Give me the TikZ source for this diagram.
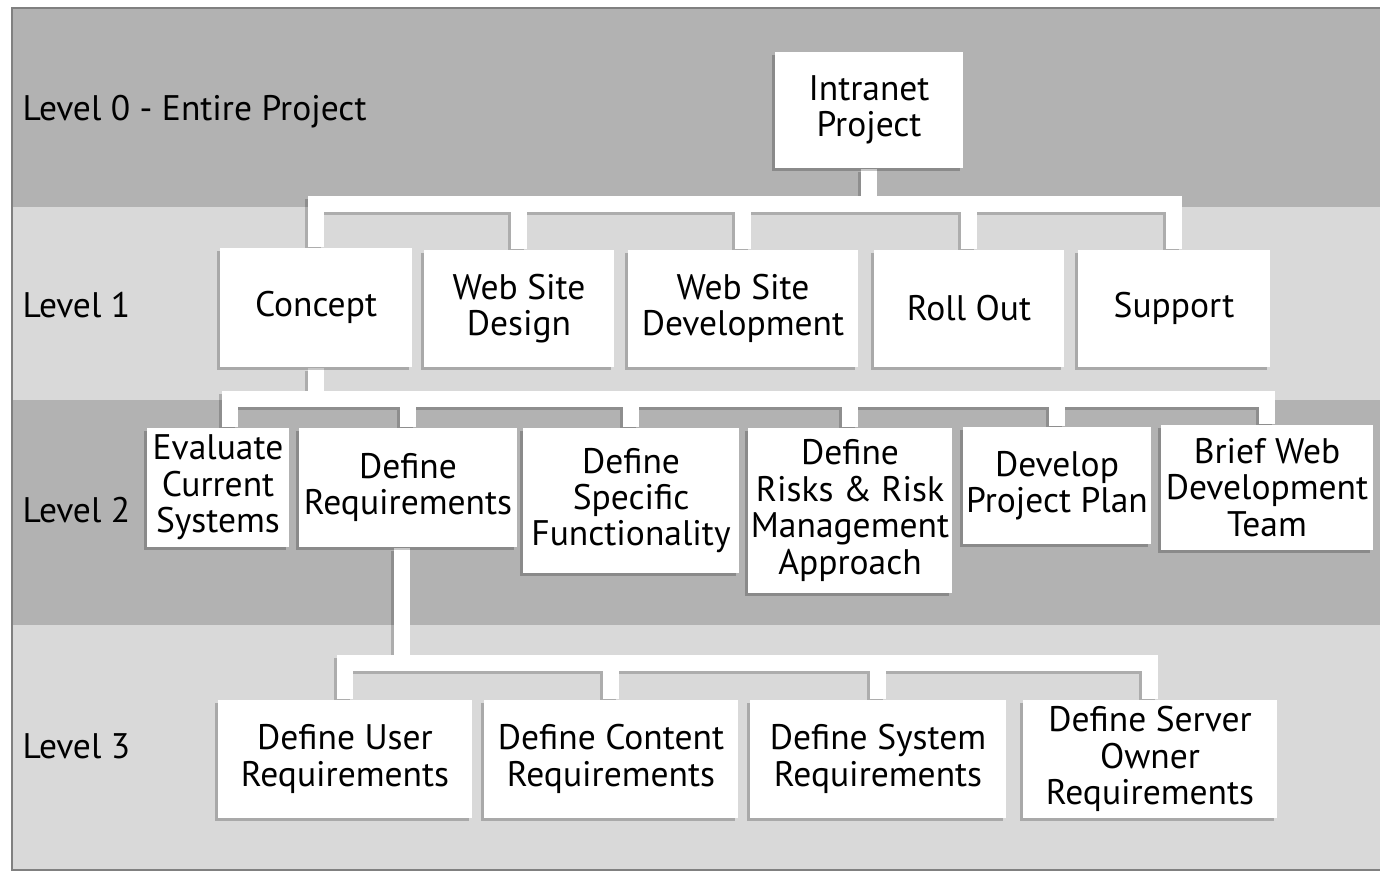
\documentclass[tikz,border=0pt]{standalone}
\usepackage{fontspec}
\setmainfont{PT Sans}
\usepackage{tikz}
\usetikzlibrary{shadows}

\pgfdeclarelayer{back}
\pgfdeclarelayer{mid}
\pgfsetlayers{back,mid,main}

\tikzset{
  box/.style={fill=white, align=center, inner sep=0pt, minimum height=1.18cm,
    font=\fontsize{10.1}{10.35}\selectfont,
    drop shadow={shadow xshift=-0.03cm, shadow yshift=-0.03cm, fill=black, opacity=0.22}},
  lvl/.style={anchor=west, inner sep=0pt, font=\fontsize{10.1}{10.35}\selectfont},
  link/.style={draw=white, line width=0.16cm,
    preaction={draw=black, opacity=0.2, line width=0.16cm,
      transform canvas={xshift=-0.03cm, yshift=-0.03cm}}}
}

\begin{document}
\begin{tikzpicture}[x=0.01cm, y=-0.01cm]

\useasboundingbox (0,0) rectangle (1380,872);

% bands
\begin{pgfonlayer}{back}
\fill[white] (0,0) rectangle (1380,872);
\fill[black!30] (12,8) rectangle (1380,207);
\fill[black!15] (12,207) rectangle (1380,400);
\fill[black!30] (12,400) rectangle (1380,625);
\fill[black!15] (12,625) rectangle (1380,870);
\draw[black!50, line width=0.02cm] (1380,8) -- (12,8) -- (12,870) -- (1380,870);
\end{pgfonlayer}

% level names
{
\node (l0) at (22,112) [lvl] {Level 0 - Entire Project};
\node (l1) at (22,305) [lvl] {Level 1};
\node (l2) at (22,510) [lvl] {Level 2};
\node (l3) at (22,746) [lvl] {Level 3};
}

% nodes
{
\node (top) at (869,110) [box, minimum width=1.88cm, minimum height=1.16cm] {Intranet\\Project};

\node (concept) at (316,307.5) [box, minimum width=1.92cm, minimum height=1.19cm] {Concept};
\node (design) at (519,308.5) [box, minimum width=1.90cm, minimum height=1.17cm] {Web Site\\Design};
\node (develop) at (743,308.5) [box, minimum width=2.30cm, minimum height=1.17cm] {Web Site\\Development};
\node (rollout) at (969,308.5) [box, minimum width=1.90cm, minimum height=1.17cm] {Roll Out};
\node (support) at (1174,308.5) [box, minimum width=1.92cm, minimum height=1.17cm] {Support};

\node (eval) at (218,487.5) [box, minimum width=1.41cm, minimum height=1.19cm] {Evaluate\\Current\\Systems};
\node (defreq) at (408,487.5) [box, minimum width=2.18cm, minimum height=1.19cm] {Define\\Requirements};
\node (specific) at (631,500.5) [box, minimum width=2.16cm, minimum height=1.45cm] {Define\\Specific\\Functionality};
\node (risks) at (850,510.5) [box, minimum width=2.04cm, minimum height=1.65cm] {Define\\Risks \& Risk\\Management\\Approach};
\node (plan) at (1057,485.5) [box, minimum width=1.88cm, minimum height=1.17cm] {Develop\\Project Plan};
\node (brief) at (1267,487.5) [box, minimum width=2.12cm, minimum height=1.25cm] {Brief Web\\Development\\Team};

\node (user) at (345,759) [box, minimum width=2.54cm] {Define User\\Requirements};
\node (content) at (611,759) [box, minimum width=2.54cm] {Define Content\\Requirements};
\node (system) at (878,759) [box, minimum width=2.55cm] {Define System\\Requirements};
\node (server) at (1150,759) [box, minimum width=2.54cm] {Define Server\\Owner\\Requirements};
}

% links
\begin{pgfonlayer}{mid}
\coordinate (bar1) at (0,203.5);
\coordinate (bar2) at (0,399);
\coordinate (bar3) at (0,662.5);
\coordinate (dq) at ([xshift=-0.06cm]defreq.south);

\draw[link] (top.south) -- (top.south |- bar1)
  (concept.north) |- (support.north |- bar1) -- (support.north)
  (design.north) -- (design.north |- bar1)
  (develop.north) -- (develop.north |- bar1)
  (rollout.north) -- (rollout.north |- bar1);

\draw[link] (concept.south) -- (concept.south |- bar2)
  ([xshift=0.12cm]eval.north) |- (brief.north |- bar2) -- (brief.north)
  (defreq.north) -- (defreq.north |- bar2)
  (specific.north) -- (specific.north |- bar2)
  (risks.north) -- (risks.north |- bar2)
  (plan.north) -- (plan.north |- bar2);

\draw[link] (dq) -- (dq |- bar3)
  (user.north) |- (server.north |- bar3) -- (server.north)
  (content.north) -- (content.north |- bar3)
  (system.north) -- (system.north |- bar3);
\end{pgfonlayer}

\end{tikzpicture}
\end{document}
